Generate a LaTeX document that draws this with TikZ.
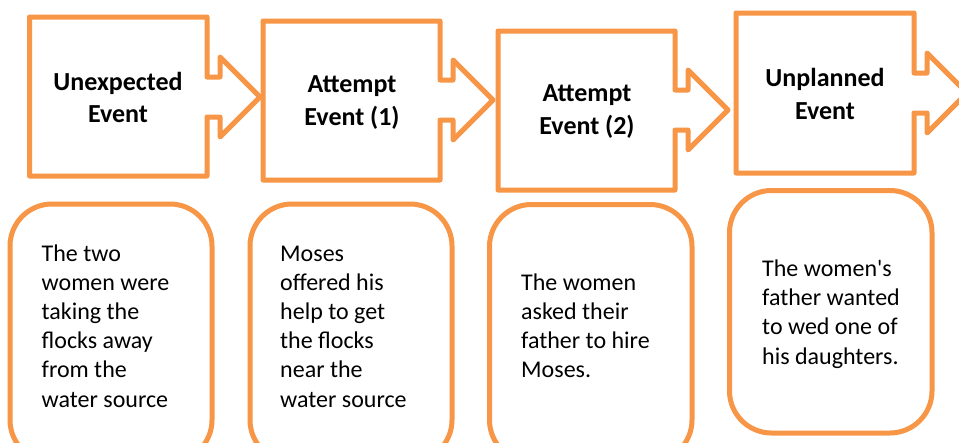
\documentclass[tikz,border=0pt]{standalone}
\usepackage{fontspec}
\setmainfont{Carlito}
\definecolor{evorange}{HTML}{F79646}
\tikzset{
  evline/.style={draw=evorange, line width=5pt, line join=round},
  evbox/.style={draw=evorange, line width=5pt, rounded corners=42pt},
  headtxt/.style={anchor=base, inner sep=0pt, font=\fontsize{26}{32.5}\selectfont\bfseries},
  bodytxt/.style={anchor=base west, inner sep=0pt, font=\fontsize{24}{29.2}\selectfont},
}
% #1 left, #2 top, #3 right, #4 bottom, #5 centre y
\newcommand\evshape[5]{%
  \draw[evline] (#1,#2) -- (#3,#2) -- (#3,#5-20) -- (#3+13,#5-20) -- (#3+13,#5-40)
    -- (#3+53,#5) -- (#3+13,#5+40) -- (#3+13,#5+20) -- (#3,#5+20) -- (#3,#4)
    -- (#1,#4) -- cycle;}
\begin{document}
\begin{tikzpicture}[x=1pt,y=-1pt]
\clip (0,0) rectangle (959,442);
\fill[white] (0,0) rectangle (959,442);

\evshape{29.5}{17}{207}{176}{97}
\evshape{263}{21}{440}{180}{100}
\evshape{498}{31}{675}{190}{110}
\evshape{736}{13}{914}{173}{93}

\node[headtxt] (h1) at (118,90) {\parbox[t]{170pt}{\centering Unexpected\\Event}};
\node[headtxt] (h2) at (352,92.7) {\parbox[t]{170pt}{\centering Attempt\\Event (1)}};
\node[headtxt] (h3) at (587,101.7) {\parbox[t]{170pt}{\centering Attempt\\Event (2)}};
\node[headtxt] (h4) at (825,86.7) {\parbox[t]{170pt}{\centering Unplanned\\Event}};

\draw[evbox] (10,204) rectangle (212,462);
\draw[evbox] (250,204) rectangle (452,462);
\draw[evbox] (489.5,204.5) rectangle (692,462);
\draw[evbox] (729.5,190.5) rectangle (932,433);

\node[bodytxt] (t1) at (41.5,261) {\parbox[t]{170pt}{\raggedright The two\\women were\\taking the\\flocks away\\from the\\water source}};
\node[bodytxt] (t2) at (280,261) {\parbox[t]{170pt}{\raggedright Moses\\offered his\\help to get\\the flocks\\near the\\water source}};
\node[bodytxt] (t3) at (521,290) {\parbox[t]{170pt}{\raggedright The women\\asked their\\father to hire\\Moses.}};
\node[bodytxt] (t4) at (762,276.5) {\parbox[t]{170pt}{\raggedright The women\textquotesingle s\\father wanted\\to wed one of\\his daughters.}};
\end{tikzpicture}
\end{document}
